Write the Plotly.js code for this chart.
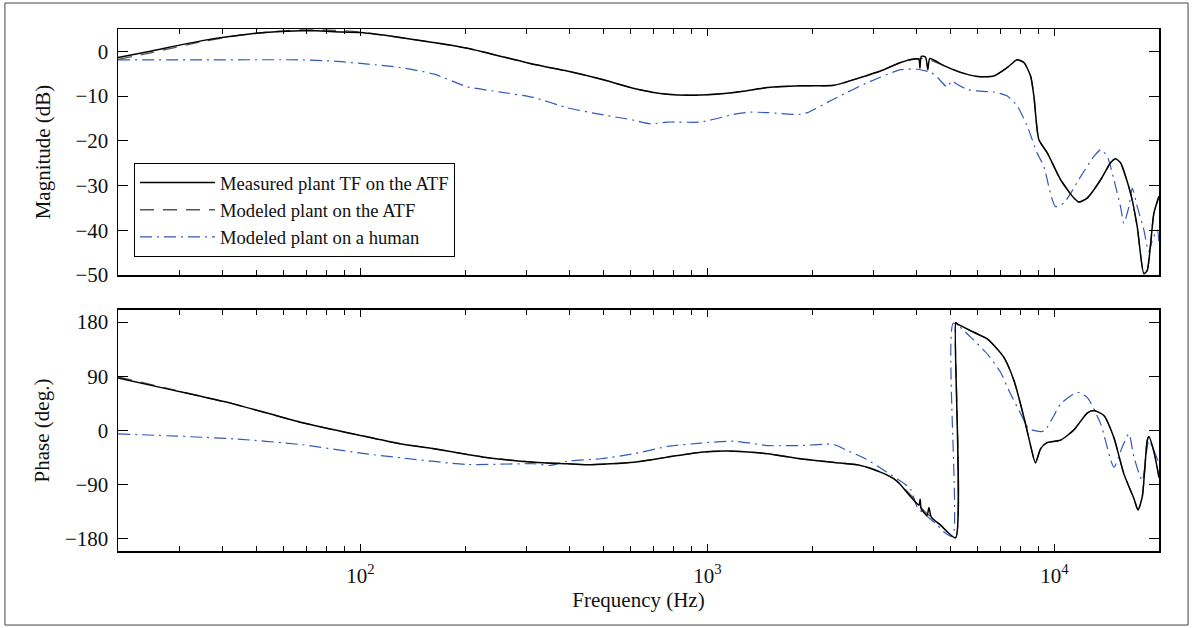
<!DOCTYPE html>
<html>
<head>
<meta charset="utf-8">
<script src="https://cdn.plot.ly/plotly-3.0.1.min.js"></script>
<style>
html,body{margin:0;padding:0;background:#fff;}
#chart{width:1192px;height:628px;}
</style>
</head>
<body>
<div id="chart"></div>
<script>
// ---------- data ----------
const seriesNames = ["Measured plant TF on the ATF", "Modeled plant on the ATF", "Modeled plant on a human"];

// Magnitude (dB)
const measMagFreq = [20,25,35,48,67,75,84,100,130,203,315,394,492,614,766,955,1190,1490,1850,2310,2760,3150,3600,3930,4066,4093,4131,4250,4313,4371,4800,5360,5990,6680,7310,7800,8160,8530,8720,9010,9530,10410,11370,11750,12420,13580,14500,14990,15490,16560,17310,18090,18490,19330,20000];
const measMag = [-1.4,0.1,2.4,3.9,4.6,4.6,4.4,4.2,3.1,0.7,-2.9,-4.4,-6.2,-8.3,-9.6,-9.75,-9.2,-8.1,-7.7,-7.6,-5.85,-4.4,-2.5,-1.7,-1.8,-3.8,-1.1,-1.3,-4.1,-1.6,-3.2,-4.7,-5.6,-5.5,-3.6,-1.9,-2.5,-5.5,-10,-19.7,-22.7,-28.7,-32.8,-33.7,-32.8,-28.7,-24.9,-24.0,-24.9,-31.7,-39.2,-49.7,-49,-36.2,-32.4];

const atfMagFreq = [20,25,35,48,67,84,100,130,203,315,394,492,614,766,955,1190,1490,1850,2310,2760,3150,3600,3930,4250,4800,5360,5990,6680,7310,7800,8160,8530,8720,9010,9530,10410,11370,11750,12420,13580,14500,14990,15490,16560,17310,18090,18490,19330,20000];
const atfMag = [-1.8,-0.3,2.2,3.9,4.8,4.7,4.3,3.1,0.7,-2.9,-4.4,-6.2,-8.3,-9.6,-9.75,-9.2,-8.1,-7.7,-7.6,-5.85,-4.4,-2.5,-1.8,-1.6,-3.2,-4.7,-5.6,-5.5,-3.6,-1.9,-2.5,-5.5,-10,-19.7,-22.7,-28.7,-32.8,-33.7,-32.8,-28.7,-24.9,-24.0,-24.9,-31.7,-39.2,-49.7,-49,-36.2,-32.4];

const humanMagFreq = [20,35,67,84,105,130,163,203,253,315,394,492,614,685,766,955,1190,1330,1490,1850,1940,2360,2890,3600,4020,4400,4600,4910,5050,5240,5600,5990,6680,7310,7810,8340,8910,9310,9730,10060,10640,11890,12980,13580,14190,14830,15490,15840,16380,16750,17310,18090,18490,18700,19140,19770,20000];
const humanMag = [-1.9,-1.9,-1.9,-2.2,-2.85,-3.6,-5.1,-7.9,-9.1,-10.3,-12.6,-14.1,-15.4,-16.2,-15.8,-15.8,-14.1,-13.6,-13.7,-14.1,-13.7,-10.3,-7.0,-4.1,-4.0,-4.7,-5.85,-8.0,-6.6,-7.35,-8.5,-8.85,-9.1,-10,-12.2,-16.7,-22.7,-25.7,-31.7,-34.7,-33.9,-28,-23.5,-22,-23.5,-28.7,-34.7,-38.4,-34.7,-30.6,-34.7,-39.9,-43.7,-44.8,-42.2,-39.9,-42.9];

// Phase (deg.)
const measPhFreq = [20,27.7,43,67,100,130,163,203,226,315,394,450,614,766,955,1190,1490,1850,2415,2760,3150,3440,3600,3680,3890,4066,4100,4128,4290,4345,4412,4694,5185,5190,5244,5853,6400,7145,7638,8160,8530,8810,9120,9527,10410,11370,12420,12980,13870,14830,15840,16930,17400,17900,18490,18700,19330,20000];
const measPh = [87.3,69.1,44.2,13.8,-8.3,-22,-30.3,-39.8,-44.2,-52.5,-55.2,-56.8,-52.5,-44.2,-36,-34.3,-38.6,-46.9,-54,-58,-69,-80,-90,-96.7,-113,-124,-114,-130,-141,-128,-143.6,-157,-178,179,176.8,163,152,121.5,83,22,-25,-54,-30,-20,-16,1,29,33,25,-12,-72,-113,-132,-110,-17,-10,-35,-78];

const atfPhFreq = [20,27.7,43,67,100,130,163,203,226,315,394,450,614,766,955,1190,1490,1850,2415,2760,3150,3440,3600,3890,4128,4290,4412,4694,5185,5190,5244,5853,6400,7145,7638,8160,8530,8810,9120,9527,10410,11370,12420,12980,13870,14830,15840,16930,17400,17900,18490,18700,19330,20000];
const atfPh = [89,70,44,13.8,-8.3,-22,-30.3,-39.8,-44.2,-52.5,-55.2,-56.8,-52.5,-44.2,-36,-34.3,-38.6,-46.9,-54,-58,-69,-80,-90,-110,-128,-138,-143,-157,-178,179,176,163,152,121.5,83,22,-25,-54,-30,-20,-16,1,29,33,25,-12,-72,-113,-132,-110,-17,-10,-35,-78];

const humanPhFreq = [20,43,67,100,130,203,315,353,394,492,614,766,955,1190,1490,1850,2310,2500,2850,3220,3840,4020,4600,4800,5090,5110,5728,6466,6982,7465,7990,8433,9313,9900,10410,11630,12420,13580,14830,15660,16380,16930,17900,18700,20000];
const humanPh = [-5.5,-13.8,-23.2,-37.6,-45.2,-56.3,-55.2,-58,-50.9,-46.9,-38.6,-26.5,-21,-17.7,-25,-24.9,-23.2,-32,-47,-66,-96.7,-127,-157,-168.5,-176,178,155,124,97,61,28,3,-1,22,44,63.5,55,11,-61,-28,-5.5,-44,-83,-17,-55];

// axis ticks
const freqRange = [20, 20000];
const decadeTicks = [100, 1000, 10000];
const decadeLabels = ["10<sup>2</sup>", "10<sup>3</sup>", "10<sup>4</sup>"];
const minorTicks = [20,30,40,50,60,70,80,90,200,300,400,500,600,700,800,900,2000,3000,4000,5000,6000,7000,8000,9000,20000];
const magTicks = [-50,-40,-30,-20,-10,0];
const magRange = [-50, 5];
const phaseTicks = [-180,-90,0,90,180];
const phaseRange = [-200, 200];

// ---------- styling ----------
const FONT = "Liberation Serif, Times New Roman, serif";
const styles = [
  {color: "#000000", width: 1.5, dash: "solid", rank: 1},
  {color: "#555555", width: 1.3, dash: "14px,9px", rank: 2},
  {color: "#3358bb", width: 1.2, dash: "12px,5px,2px,5px", rank: 3}
];

function tr(x, y, idx, xa, ya, showleg) {
  return {
    type: "scatter", mode: "lines", x: x, y: y,
    xaxis: xa, yaxis: ya, name: seriesNames[idx],
    legendgroup: "g" + idx, legendrank: styles[idx].rank, showlegend: showleg,
    line: {color: styles[idx].color, width: styles[idx].width, dash: styles[idx].dash, shape: "spline", smoothing: 0.6},
    hoverinfo: "skip"
  };
}

// drawn order: human, model, measured (measured on top)
const data = [
  tr(humanMagFreq, humanMag, 2, "x", "y", true),
  tr(atfMagFreq, atfMag, 1, "x", "y", true),
  tr(measMagFreq, measMag, 0, "x", "y", true),
  tr(humanPhFreq, humanPh, 2, "x2", "y2", false),
  tr(atfPhFreq, atfPh, 1, "x2", "y2", false),
  tr(measPhFreq, measPh, 0, "x2", "y2", false)
];

const lr = [Math.log10(freqRange[0]), Math.log10(freqRange[1])];
function xax(showLabels, anchor, titleText) {
  const a = {
    type: "log", range: lr, domain: [0, 1], anchor: anchor,
    tickmode: "array", tickvals: decadeTicks, ticktext: decadeLabels,
    showticklabels: showLabels,
    ticks: "inside", ticklen: 7, tickwidth: 1, tickcolor: "#000",
    minor: {tickmode: "array", tickvals: minorTicks, ticks: "inside", ticklen: 5, tickwidth: 1, tickcolor: "#000", showgrid: false},
    showline: true, linecolor: "#000", linewidth: 1.5, mirror: "allticks",
    showgrid: false, zeroline: false,
    tickfont: {family: FONT, size: 21, color: "#111"},
    ticklabelstandoff: 5
  };
  if (titleText) a.title = {text: titleText, font: {family: FONT, size: 21, color: "#111"}, standoff: 3};
  return a;
}
function yax(domain, range, ticks, titleText, standoff) {
  return {
    domain: domain, range: range, tickmode: "array", tickvals: ticks,
    ticks: "inside", ticklen: 10, tickwidth: 1, tickcolor: "#000",
    showline: true, linecolor: "#000", linewidth: 1.5, mirror: "allticks",
    showgrid: false, zeroline: false,
    tickfont: {family: FONT, size: 21, color: "#111"},
    ticklabelstandoff: 4,
    title: {text: titleText, font: {family: FONT, size: 21, color: "#111"}, standoff: standoff}
  };
}

const layout = {
  width: 1192, height: 628,
  margin: {l: 118, r: 33, t: 29, b: 77},
  paper_bgcolor: "#fff", plot_bgcolor: "#fff",
  font: {family: FONT, color: "#111"},
  showlegend: true,
  legend: {
    x: 0.0154, y: 0.7433, xanchor: "left", yanchor: "top",
    bgcolor: "#fff", bordercolor: "#000", borderwidth: 1,
    font: {family: FONT, size: 18.6, color: "#111"},
    traceorder: "normal", itemwidth: 75
  },
  xaxis: xax(false, "y", null),
  yaxis: yax([0.5287, 1], magRange, magTicks, "Magnitude (dB)", 19),
  xaxis2: xax(true, "y2", "Frequency (Hz)"),
  yaxis2: yax([0, 0.4617], phaseRange, phaseTicks, "Phase (deg.)", 9),
  shapes: [{
    type: "rect", xref: "paper", yref: "paper",
    x0: -0.1086, x1: 1.0279, y0: -0.1418, y1: 1.0498,
    line: {color: "#444", width: 1}, fillcolor: "rgba(0,0,0,0)", layer: "below"
  }]
};

Plotly.newPlot("chart", data, layout, {displayModeBar: false, staticPlot: true});
</script>
</body>
</html>
